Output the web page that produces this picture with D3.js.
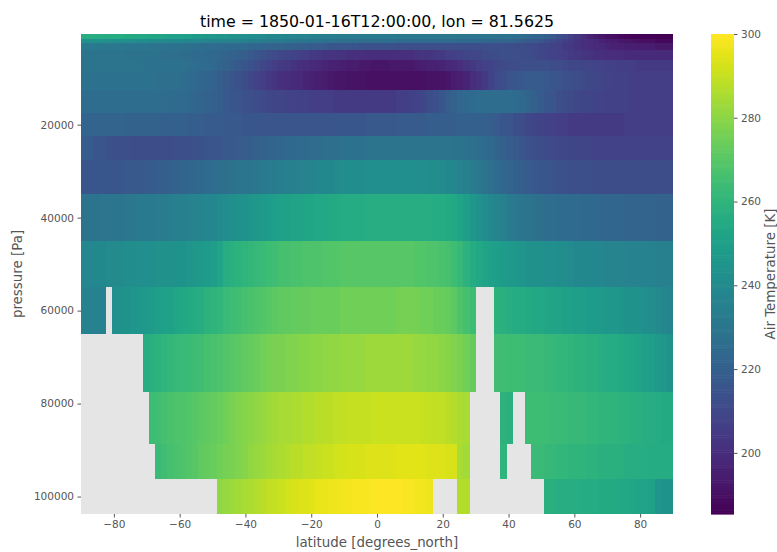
<!DOCTYPE html>
<html>
<head>
<meta charset="utf-8">
<script src="https://cdn.jsdelivr.net/npm/d3@7"></script>
<style>
  body { margin: 0; background: #fff; }
  text { font-family: "DejaVu Sans", sans-serif; }
</style>
</head>
<body>
<div id="chart"></div>
<script>
// pressure levels [Pa], top of the plot to the bottom
const plev = [1000, 2000, 3000, 5000, 7000, 10000, 15000, 20000, 25000,
              30000, 40000, 50000, 60000, 70000, 85000, 92500, 100000];

// air temperature [K] on 96 latitudes (-89.06 .. 89.06), null = below ground
const ta1000 = [257,257,257,256,256, 256,256,255,255,254,254, 253,253,252,251,250, 250,249,248,247,246, 246,245,245,244,243,242, 241,241,240,239,238, 238,237,237,236,236,235, 235,234,234,233,233, 233,233,232,232,232, 232,232,232,231,231, 231,231,231,231,231,231, 231,231,230,230,230, 230,229,229,229,228, 228,227,226,224,223,222, 220,217,214,211,207, 204,200,197,194,192,190, 189,188,187,186,186, 186,186,185,185,185];
const ta2000 = [243,243,243,243,242, 242,242,242,241,241,241, 240,240,240,239,239, 239,238,238,238,237, 237,236,236,236,235,235, 234,234,233,233,232, 232,231,231,230,230,229, 229,228,228,228,227, 227,227,226,226,226, 226,226,226,225,225, 225,225,225,225,225,225, 225,225,224,224,224, 224,223,223,223,222, 222,221,219,218,217,215, 213,211,209,207,205, 203,201,200,198,196,195, 194,193,192,191,190, 189,189,188,188,188];
const ta3000 = [232,232,232,231,231, 231,231,230,230,230,230, 229,229,229,228,228, 228,227,227,226,226, 226,225,225,224,224,224, 223,223,222,222,221, 221,220,220,219,219,218, 218,217,216,216,215, 215,215,214,214,214, 214,214,214,213,213, 213,213,213,213,213,213, 213,213,213,213,213, 213,213,213,213,213, 213,212,212,211,211,210, 209,208,207,205,204, 202,201,200,199,198,197, 196,196,195,195,194, 194,194,193,193,193];
const ta5000 = [229,229,229,229,229, 229,229,228,228,228,228, 228,228,227,227,227, 226,226,225,225,224, 224,223,222,221,220,219, 217,215,214,212,211, 210,209,208,207,206,205, 204,203,203,202,202, 201,201,201,200,200, 200,200,200,201,201, 201,202,203,203,204,205, 206,207,208,209,210, 210,211,212,212,213, 213,213,212,212,211,210, 209,208,207,206,205, 204,203,202,201,201,200, 200,200,199,199,199, 199,199,199,199,199];
const ta7000 = [229,229,229,229,229, 229,229,229,229,228,228, 228,228,228,228,228, 228,227,226,225,225, 224,222,221,219,217,216, 214,212,210,208,206, 205,204,202,201,200,199, 198,197,196,196,195, 194,194,193,193,192, 192,192,193,193,193, 193,194,195,196,196,197, 198,199,201,203,204, 206,207,208,210,211, 212,212,213,213,213,213, 213,212,212,211,210, 210,209,209,208,208,207, 207,206,206,206,205, 205,205,205,205,205];
const ta10000 = [228,228,228,228,228, 228,228,228,228,228,228, 228,227,227,227,227, 226,225,224,223,222, 221,219,217,215,214,212, 210,208,206,204,203, 201,200,199,198,197,196, 195,194,193,192,192, 191,191,191,190,190, 190,190,190,190,190, 190,190,190,191,191,191, 192,194,195,197,200, 202,205,208,211,213, 215,216,217,218,218,218, 217,216,215,214,213, 212,211,210,209,209,208, 207,207,207,206,206, 206,206,206,206,206];
const ta15000 = [226,226,226,226,226, 226,226,226,226,226,226, 226,226,226,225,225, 225,224,223,222,221, 220,219,217,216,215,214, 213,212,211,210,209, 209,208,208,207,207,206, 206,206,206,205,205, 205,205,205,205,205, 205,205,205,206,206, 207,208,210,212,214,216, 219,221,223,224,225, 226,226,226,226,226, 226,225,224,222,220,218, 216,215,213,212,211, 210,209,209,208,208,207, 207,207,207,206,206, 206,206,206,206,206];
const ta20000 = [222,222,222,222,222, 222,222,221,221,221,221, 221,221,220,220,220, 220,219,219,219,218, 218,218,217,217,217,216, 216,216,216,215,215, 215,215,215,215,215,215, 215,215,215,216,216, 216,216,216,217,217, 217,217,217,218,218, 218,218,218,219,219,219, 219,219,220,220,220, 220,220,219,218,216, 215,213,212,210,209,208, 207,207,206,206,205, 205,205,205,205,205,205, 205,205,206,206,206, 206,206,206,206,206];
const ta25000 = [219,218,216,215,214, 213,213,213,212,212,212, 212,212,212,212,213, 213,213,214,214,215, 216,216,217,217,218,219, 219,220,221,222,222, 223,224,224,225,225,226, 226,227,227,227,228, 228,228,228,229,229, 229,229,229,229,229, 229,229,229,229,229,229, 229,228,228,228,227, 226,225,224,222,220, 218,217,215,214,213,212, 211,211,210,210,209, 209,209,209,208,208,208, 208,208,208,208,208, 208,208,208,208,208];
const ta30000 = [216,216,216,216,216, 216,216,217,217,217,218, 218,219,219,220,221, 222,223,223,224,225, 226,227,227,228,229,230, 230,231,232,233,233, 234,235,235,236,237,237, 238,239,239,240,241, 241,241,241,242,242, 242,242,242,242,242, 242,242,242,241,241,240, 239,238,236,235,233, 231,229,227,225,223, 222,220,219,218,217,216, 215,215,214,214,213, 213,213,213,212,212,212, 212,212,212,212,212, 212,212,212,212,212];
const ta40000 = [229,229,229,230,230, 230,230,231,231,232,232, 232,233,233,234,235, 235,236,237,237,238, 239,240,241,242,243,244, 245,246,247,248,249, 250,251,252,252,253,253, 254,254,255,255,256, 256,256,256,257,257, 257,257,257,257,257, 257,257,257,257,256,256, 255,254,252,249,246, 244,241,239,237,235, 232,231,230,229,228,227, 226,226,225,225,225, 225,224,224,224,223,223, 223,223,222,222,222, 222,222,221,221,221];
const ta50000 = [238,238,239,239,240, 240,240,241,241,242,242, 242,243,243,243,244, 244,245,246,247,248, 249,252,257,258,259,260, 261,262,263,264,265, 266,266,267,267,268,268, 268,269,269,269,270, 270,270,270,270,270, 270,270,270,270,270, 270,269,269,268,268,267, 266,264,262,259,256, 254,252,250,249,248, 247,246,245,244,243,243, 242,242,241,241,240, 239,239,239,238,238,237, 237,237,237,236,236, 236,236,235,235,235];
const ta60000 = [236,236,236,236,null, 242,243,244,245,246,247, 248,249,250,251,253, 254,255,256,257,259, 260,261,263,264,265,266, 267,268,269,270,271, 272,272,273,273,273,274, 274,274,274,274,275, 275,275,275,275,275, 275,275,275,276,276, 276,276,275,275,274,274, 273,271,268,266,264, null,null,null,259,258, 257,256,256,255,254,254, 253,252,252,251,250, 249,249,248,248,247,246, 246,245,244,244,243, 242,241,240,238,237];
const ta70000 = [null,null,null,null,null, null,null,null,null,null,257, 258,259,260,261,262, 263,263,264,265,266, 267,268,269,270,271,272, 273,274,275,276,277, 277,278,278,279,279,280, 280,281,281,281,282, 282,282,282,283,283, 283,283,283,283,283, 283,282,282,281,281,280, 279,278,277,275,273, null,null,null,265,265, 264,264,264,263,263,263, 262,262,261,261,260, 259,259,258,258,257,256, 256,255,254,253,252, 250,249,247,246,244];
const ta85000 = [null,null,null,null,null, null,null,null,null,null,null, 264,265,266,267,268, 268,269,270,271,272, 273,274,275,277,278,279, 280,281,282,283,284, 285,285,286,286,287,287, 288,288,288,289,289, 290,290,290,290,291, 291,291,291,291,291, 291,291,290,290,289,289, 288,287,286,285,null, null,null,null,null,259, 258,null,null,264,264,264, 264,263,263,263,262, 262,262,261,261,260,260, 260,259,259,258,258, 257,257,256,255,255];
const ta92500 = [null,null,null,null,null, null,null,null,null,null,null, null,263,265,266,267, 268,269,270,272,273, 274,275,276,277,278,279, 281,282,283,284,285, 286,287,288,288,289,289, 290,291,291,292,292, 293,293,293,294,294, 294,294,294,295,295, 295,295,295,294,294,294, 293,293,285,284,null, null,null,null,null,260, null,null,null,null,263,263, 262,262,261,261,260, 260,260,259,259,258,258, 258,258,257,257,257, 257,256,256,256,256];
const ta100000 = [null,null,null,null,null, null,null,null,null,null,null, null,null,null,null,null, null,null,null,null,null, null,281,282,283,284,285, 286,287,288,289,290, 291,292,293,294,294,295, 296,296,297,297,298, 298,299,299,299,300, 300,300,300,300,299, 299,298,298,297,null,null, null,null,287,287,null, null,null,null,null,null, null,null,null,null,null,null, 258,258,257,257,257, 257,256,256,256,255,255, 255,254,254,253,252, 252,251,245,244,244];

const taRows = [ta1000, ta2000, ta3000, ta5000, ta7000, ta10000, ta15000, ta20000, ta25000,
                ta30000, ta40000, ta50000, ta60000, ta70000, ta85000, ta92500, ta100000];

const latTicks = [-80, -60, -40, -20, 0, 20, 40, 60, 80];
const plevTicks = [20000, 40000, 60000, 80000, 100000];
const cbarTicks = [200, 220, 240, 260, 280, 300];
const tRange = [185.4, 300];

// latitude grid: 96 cells of 1.875 degrees
const nLat = 96, dLat = 1.875;

let width = 777,
    height = 552;
let margin = {left: 81, top: 34};
let plotW = 592, plotH = 480;

let svg = d3.select("#chart")
    .append("svg")
    .attr("width", width)
    .attr("height", height);

// cell edges in pressure: midpoints between levels, half a step beyond the ends
let pEdges = [plev[0] - (plev[1] - plev[0]) / 2]
    .concat(d3.range(plev.length - 1).map(i => (plev[i] + plev[i + 1]) / 2))
    .concat([plev[plev.length - 1] + (plev[plev.length - 1] - plev[plev.length - 2]) / 2]);

let x = d3.scaleLinear().domain([-90, 90]).range([margin.left, margin.left + plotW]);
let y = d3.scaleLinear().domain([pEdges[0], pEdges[pEdges.length - 1]])
    .range([margin.top, margin.top + plotH]);
let color = d3.scaleSequential(d3.interpolateViridis).domain(tRange);

// axes background (shows through where data is missing)
svg.append("rect")
    .attr("x", x(-90)).attr("y", y(pEdges[0]))
    .attr("width", x(90) - x(-90))
    .attr("height", y(pEdges[pEdges.length - 1]) - y(pEdges[0]))
    .attr("fill", "#e5e5e5");

let cells = [];
taRows.forEach((row, i) => {
    row.forEach((v, k) => {
        if (v !== null) cells.push({i: i, k: k, v: v});
    });
});

svg.append("g")
    .attr("shape-rendering", "crispEdges")
    .selectAll("rect")
    .data(cells)
    .enter()
    .append("rect")
    .attr("x", d => x(-90 + d.k * dLat))
    .attr("width", d => x(-90 + (d.k + 1) * dLat) - x(-90 + d.k * dLat))
    .attr("y", d => y(pEdges[d.i]))
    .attr("height", d => y(pEdges[d.i + 1]) - y(pEdges[d.i]))
    .attr("fill", d => color(d.v));

let minus = d => d < 0 ? "\u2212" + Math.abs(d) : String(d);

function styleAxis(g) {
    g.select(".domain").remove();
    g.selectAll(".tick line").attr("stroke", "#555555");
    g.selectAll(".tick text").attr("fill", "#555555")
        .style("font-size", "10.5px").style("font-family", "DejaVu Sans");
}

svg.append("g")
    .attr("transform", `translate(0, ${margin.top + plotH})`)
    .call(d3.axisBottom(x).tickValues(latTicks).tickSize(3.5).tickPadding(3.5).tickFormat(minus))
    .call(styleAxis);

svg.append("g")
    .attr("transform", `translate(${margin.left}, 0)`)
    .call(d3.axisLeft(y).tickValues(plevTicks).tickSize(3.5).tickPadding(3.5).tickFormat(d3.format("d")))
    .call(styleAxis);

// colorbar
let cbX = 711, cbW = 23;
let cb = d3.scaleLinear().domain(tRange).range([margin.top + plotH, margin.top]);
let nSteps = 256;
let step = (tRange[1] - tRange[0]) / nSteps;
svg.append("g")
    .selectAll("rect")
    .data(d3.range(nSteps))
    .enter()
    .append("rect")
    .attr("x", cbX)
    .attr("width", cbW)
    .attr("y", d => cb(tRange[0] + (d + 1) * step))
    .attr("height", d => cb(tRange[0] + d * step) - cb(tRange[0] + (d + 1) * step) + 0.6)
    .attr("fill", d => color(tRange[0] + (d + 0.5) * step));

svg.append("g")
    .attr("transform", `translate(${cbX + cbW}, 0)`)
    .call(d3.axisRight(cb).tickValues(cbarTicks).tickSize(3.5).tickPadding(3.5))
    .call(styleAxis);

// labels
svg.append("text")
    .attr("x", x(0))
    .attr("y", 27)
    .attr("text-anchor", "middle")
    .style("font-size", "15.8px")
    .attr("fill", "#000")
    .text("time = 1850-01-16T12:00:00, lon = 81.5625");

svg.append("text")
    .attr("x", x(0))
    .attr("y", 547)
    .attr("text-anchor", "middle")
    .style("font-size", "13.4px")
    .attr("fill", "#555555")
    .text("latitude [degrees_north]");

svg.append("text")
    .attr("transform", `translate(22, ${margin.top + plotH / 2}) rotate(-90)`)
    .attr("text-anchor", "middle")
    .style("font-size", "13.4px")
    .attr("fill", "#555555")
    .text("pressure [Pa]");

svg.append("text")
    .attr("transform", `translate(775, ${margin.top + plotH / 2}) rotate(-90)`)
    .attr("text-anchor", "middle")
    .style("font-size", "13.4px")
    .attr("fill", "#555555")
    .text("Air Temperature [K]");
</script>
</body>
</html>
